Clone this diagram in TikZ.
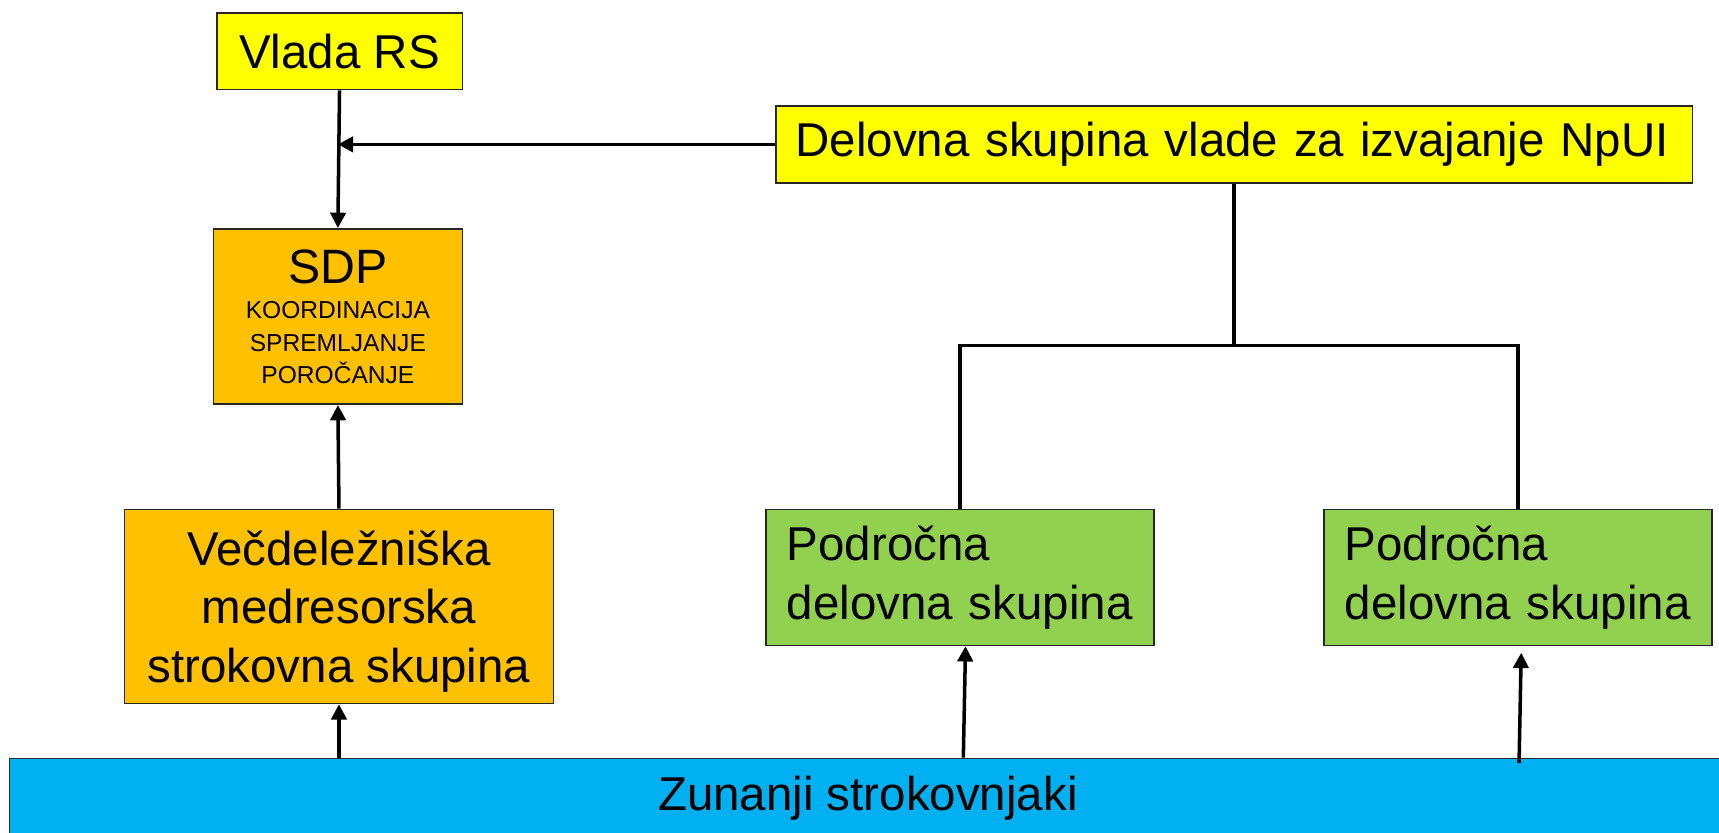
\documentclass[tikz,border=0pt]{standalone}
\usepackage{fontspec}
\setmainfont{Liberation Sans}
\usetikzlibrary{arrows.meta}
\definecolor{cyel}{HTML}{FFFF00}
\definecolor{corange}{HTML}{FFC000}
\definecolor{cgreen}{HTML}{92D050}
\definecolor{cblue}{HTML}{00B0F0}
\begin{document}
\begin{tikzpicture}[x=1pt,y=-1pt,
  box/.style={draw=black!85, line width=1.4pt, inner sep=0pt, anchor=north west},
  big/.style={font=\fontsize{43.3}{53.5}\selectfont},
  link/.style={line width=3.2pt, draw=black},
  arr/.style={link, -{Triangle[length=14pt,width=14pt]}}]
\useasboundingbox (0,0) rectangle (1568,759);
\fill[white] (0,0) rectangle (1568,759);

\node[box, big, fill=cyel, minimum width=224pt, minimum height=70pt] (vlada) at (197,11) {Vlada RS};
\node[box, big, fill=cyel, minimum width=836pt, minimum height=70pt, inner xsep=18pt, text width=800pt, align=left] (delovna) at (707,96) {\mbox{Delovna skupina vlade za izvajanje NpUI}};
\node[box, fill=corange, minimum width=227pt, minimum height=160pt, align=center, font=\fontsize{22.4}{28.5}\selectfont] (sdp) at (194,208) {{\fontsize{44}{44}\selectfont SDP}\\[4pt] KOORDINACIJA\\[1pt] SPREMLJANJE\\[1pt] POROČANJE};
\node[box, big, fill=corange, minimum width=391pt, minimum height=177pt, align=center, text depth=0pt] (vec) at (113,464) {Večdeležniška\\ medresorska\\ strokovna skupina};
\node[box, big, fill=cgreen, minimum width=354pt, minimum height=124pt, inner xsep=19pt, text width=316pt, align=left] (g1) at (698,464) {Področna\\ \mbox{delovna skupina}};
\node[box, big, fill=cgreen, minimum width=354pt, minimum height=124pt, inner xsep=19pt, text width=316pt, align=left] (g2) at (1207,464) {Področna\\ \mbox{delovna skupina}};
\node[box, big, fill=cblue, minimum width=1566pt, minimum height=72pt] (bar) at (8,691) {Zunanji strokovnjaki};

\coordinate (join) at (vlada.south |- delovna.west);
\coordinate (bus) at (delovna.south |- 0,315);

\draw[arr] (vlada.south) -- (sdp.north);
\draw[arr, shorten >=-1.5pt] (delovna.west) -- (join);
\draw[link] (delovna.south) -- (bus);
\draw[link] (g1.north) |- (bus) -| (g2.north);
\draw[arr] (vec.north) -- (sdp.south);
\draw[arr] (bar.north -| vec.south) -- (vec.south);
\draw[arr] ([xshift=3pt]bar.north -| g1.south) -- ([xshift=5pt]g1.south);
\draw[arr, shorten >=6pt, shorten <=-5pt] ([xshift=1pt]bar.north -| g2.south) -- ([xshift=3pt]g2.south);
\end{tikzpicture}
\end{document}
